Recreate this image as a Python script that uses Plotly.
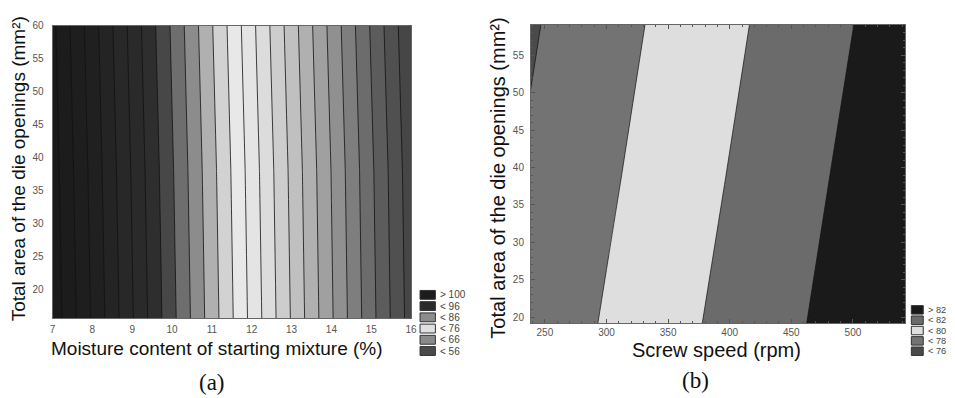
import plotly.graph_objects as go

W, H = 955, 398

# ---------------- Panel (a) data ----------------
moisture = [7, 8, 9, 10, 11, 12, 13, 14, 15, 16]
area_a = [15.5, 38, 60]
z_a = [
    [105.33, 99.75, 94.16, 88.58, 82.99, 77.41, 71.83, 66.24, 60.66, 55.08],
    [104.94, 99.37, 93.80, 88.22, 82.65, 77.08, 71.51, 65.94, 60.36, 54.79],
    [104.46, 98.88, 93.29, 87.71, 82.12, 76.54, 70.95, 65.37, 59.78, 54.20],
]
levels_a = dict(start=54, end=104, size=2)
band_colors_a = [
    '#404040', '#464646', '#505050', '#5c5c5c', '#6c6c6c', '#7e7e7e',
    '#909090', '#a0a0a0', '#b0b0b0', '#c0c0c0', '#cdcdcd', '#dcdcdc',
    '#e4e4e4', '#e8e8e8', '#d2d2d2', '#b0b0b0', '#8c8c8c', '#6e6e6e',
    '#474747', '#2e2e2e', '#2a2a2a', '#282828', '#242424', '#202020',
    '#1e1e1e', '#1c1c1c', '#1a1a1a',
]
legend_a_labels = ['> 100', '< 96', '< 86', '< 76', '< 66', '< 56']
legend_a_colors = ['#1c1c1c', '#2a2a2a', '#8c8c8c', '#e0e0e0', '#8a8a8a', '#4a4a4a']
xticks_a = [7, 8, 9, 10, 11, 12, 13, 14, 15, 16]
yticks_a = [20, 25, 30, 35, 40, 45, 50, 55, 60]

# ---------------- Panel (b) data ----------------
speed = [238, 300, 350, 400, 450, 500, 545]
area_b = [19, 39, 59.2]
z_b = [
    [76.70, 78.17, 79.35, 80.53, 81.71, 82.89, 83.95],
    [76.25, 77.71, 78.89, 80.07, 81.26, 82.44, 83.50],
    [75.79, 77.26, 78.44, 79.62, 80.80, 81.98, 83.04],
]
levels_b = dict(start=76, end=82, size=2)
band_colors_b = ['#4a4a4a', '#737373', '#dedede', '#6b6b6b', '#1a1a1a']
legend_b_labels = ['> 82', '< 82', '< 80', '< 78', '< 76']
legend_b_colors = ['#1a1a1a', '#6b6b6b', '#dedede', '#737373', '#4a4a4a']
xticks_b = [250, 300, 350, 400, 450, 500]
yticks_b = [20, 25, 30, 35, 40, 45, 50, 55]


def step_scale(colors):
    n = len(colors) - 1
    scale = []
    for k, c in enumerate(colors):
        lo = max(0.0, (k - 0.5) / n)
        hi = min(1.0, (k + 0.5) / n)
        scale.append([lo, c])
        scale.append([hi, c])
    return scale


SANS = 'Liberation Sans, Arial, sans-serif'
SERIF = 'Liberation Serif, Times New Roman, serif'

fig = go.Figure()

fig.add_trace(go.Contour(
    x=moisture, y=area_a, z=z_a,
    autocontour=False,
    contours=dict(coloring='fill', showlines=True, **levels_a),
    colorscale=step_scale(band_colors_a),
    line=dict(color='#111111', width=0.8, smoothing=0),
    showscale=False, hoverinfo='skip',
    xaxis='x', yaxis='y',
))

fig.add_trace(go.Contour(
    x=speed, y=area_b, z=z_b,
    autocontour=False,
    contours=dict(coloring='fill', showlines=True, **levels_b),
    colorscale=step_scale(band_colors_b),
    line=dict(color='#111111', width=0.7, smoothing=0),
    showscale=False, hoverinfo='skip',
    xaxis='x2', yaxis='y2',
))


def px_x(p):
    return p / W


def px_y(p):
    return 1 - p / H


axis_common = dict(showgrid=False, zeroline=False, showline=True,
                   linecolor='#666', linewidth=1, mirror=True,
                   tickfont=dict(family=SANS, size=10, color='#555'))

fig.update_layout(
    width=W, height=H,
    margin=dict(l=0, r=0, t=0, b=0, pad=0),
    paper_bgcolor='white', plot_bgcolor='white',
    showlegend=False,
    xaxis=dict(domain=[px_x(50), px_x(412)], range=[7, 16], anchor='y',
               tickvals=xticks_a, ticks='', ticklabelstandoff=2, **axis_common),
    yaxis=dict(domain=[px_y(317), px_y(20)], range=[15.7, 60], anchor='x',
               tickvals=yticks_a, ticks='', ticklabelstandoff=6, **axis_common),
    xaxis2=dict(domain=[px_x(533), px_x(911)], range=[238.7, 542.6], anchor='y2',
                tickvals=xticks_b, ticks='inside', ticklen=4, tickcolor='#555',
                minor=dict(dtick=10, tick0=250, ticks='inside', ticklen=2, tickcolor='#555'),
                ticklabelstandoff=0, **{**axis_common, 'mirror': 'allticks'}),
    yaxis2=dict(domain=[px_y(322), px_y(19)], range=[19.2, 59.1], anchor='x2',
                tickvals=yticks_b, ticks='inside', ticklen=4, tickcolor='#555',
                minor=dict(dtick=1, tick0=20, ticks='inside', ticklen=2, tickcolor='#555'),
                ticklabelstandoff=4, **{**axis_common, 'mirror': 'allticks'}),
)

ann = []
ann.append(dict(text='Total area of the die openings (mm²)', x=px_x(16), y=px_y(165),
                textangle=-90, font=dict(family=SANS, size=19, color='#111')))
ann.append(dict(text='Moisture content of starting mixture (%)', x=px_x(216), y=px_y(348),
                font=dict(family=SANS, size=19, color='#111')))
ann.append(dict(text='(a)', x=px_x(211), y=px_y(382),
                font=dict(family=SERIF, size=23, color='#111')))
ann.append(dict(text='Total area of the die openings (mm²)', x=px_x(500), y=px_y(175),
                textangle=-90, font=dict(family=SANS, size=20, color='#111')))
ann.append(dict(text='Screw speed (rpm)', x=px_x(720), y=px_y(349),
                font=dict(family=SANS, size=20, color='#111')))
ann.append(dict(text='(b)', x=px_x(699), y=px_y(380),
                font=dict(family=SERIF, size=23, color='#111')))

shapes = []
# legend (a)
for i, (lab, col) in enumerate(zip(legend_a_labels, legend_a_colors)):
    cy = 293.3 + i * 11.4
    shapes.append(dict(type='rect', xref='paper', yref='paper',
                       x0=px_x(421), x1=px_x(436.5), y0=px_y(cy + 4.5), y1=px_y(cy - 4.5),
                       fillcolor=col, line=dict(color='#333', width=1)))
    ann.append(dict(text=lab, x=px_x(439.5), y=px_y(cy), xanchor='left',
                    font=dict(family=SANS, size=10, color='#444')))
# legend (b)
for i, (lab, col) in enumerate(zip(legend_b_labels, legend_b_colors)):
    cy = 308.5 + i * 10.5
    shapes.append(dict(type='rect', xref='paper', yref='paper',
                       x0=px_x(917), x1=px_x(929), y0=px_y(cy + 4.3), y1=px_y(cy - 4.3),
                       fillcolor=col, line=dict(color='#333', width=1)))
    ann.append(dict(text=lab, x=px_x(931.5), y=px_y(cy), xanchor='left',
                    font=dict(family=SANS, size=9.2, color='#444')))

for a in ann:
    a.setdefault('xref', 'paper')
    a.setdefault('yref', 'paper')
    a.setdefault('showarrow', False)
    a.setdefault('xanchor', 'center')
    a.setdefault('yanchor', 'middle')

fig.update_layout(annotations=ann, shapes=shapes)

fig.write_html('out.html')
